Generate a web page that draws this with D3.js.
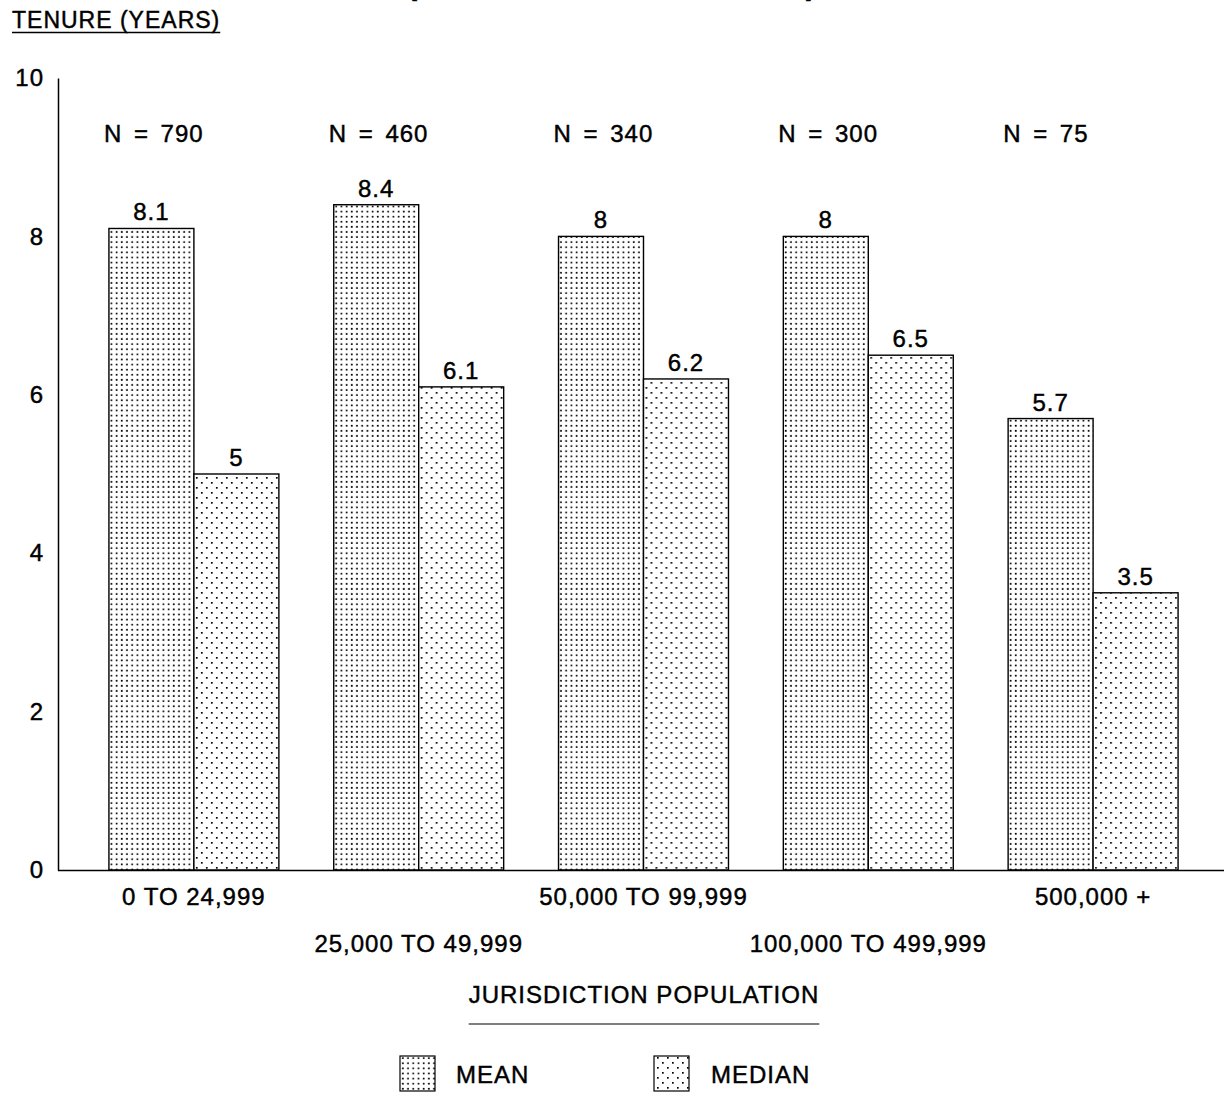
<!DOCTYPE html>
<html>
<head>
<meta charset="utf-8">
<script src="https://cdn.jsdelivr.net/npm/d3@7"></script>
<style>
  html, body { margin: 0; padding: 0; background: #fff; }
  svg { display: block; }
  text { font-family: "Liberation Sans", Arial, Helvetica, sans-serif; fill: #000; stroke: #000; stroke-width: 0.45px; letter-spacing: 1px; }
</style>
</head>
<body>
<svg id="chart" width="1224" height="1093"></svg>
<script>
// Jurisdiction population classes
const groups = ["0 TO 24,999", "25,000 TO 49,999", "50,000 TO 99,999", "100,000 TO 499,999", "500,000 +"];
// Respondents per class
const counts = [790, 460, 340, 300, 75];
// Tenure in years
const meanValues = [8.1, 8.4, 8, 8, 5.7];
const medianValues = [5, 6.1, 6.2, 6.5, 3.5];
const seriesNames = ["MEAN", "MEDIAN"];
const yTicks = [0, 2, 4, 6, 8, 10];

const svg = d3.select("#chart");
const fontSize = 24;

// Dot-screen fills: fine grid for mean, staggered sparse dots for median
const defs = svg.append("defs");
const pMean = defs.append("pattern").attr("id", "pat-mean")
  .attr("patternUnits", "userSpaceOnUse").attr("width", 5.2).attr("height", 5.1);
pMean.append("rect").attr("width", 5.2).attr("height", 5.1).attr("fill", "#fff");
pMean.append("rect").attr("x", 1.6).attr("y", 1.6).attr("width", 1.7).attr("height", 1.7).attr("fill", "#000");

const pMed = defs.append("pattern").attr("id", "pat-median")
  .attr("patternUnits", "userSpaceOnUse").attr("width", 10).attr("height", 10);
pMed.append("rect").attr("width", 10).attr("height", 10).attr("fill", "#fff");
pMed.append("rect").attr("x", 2).attr("y", 2).attr("width", 1.7).attr("height", 1.7).attr("fill", "#000");
pMed.append("rect").attr("x", 7).attr("y", 7).attr("width", 1.7).attr("height", 1.7).attr("fill", "#000");

const fills = { MEAN: "url(#pat-mean)", MEDIAN: "url(#pat-median)" };

// Scales
const y = d3.scaleLinear().domain([0, 10]).range([870, 78]);
const x0 = d3.scaleBand().domain(groups).range([81.5, 1205.5])
  .paddingInner(0.244).paddingOuter(0.122);
const x1 = d3.scaleBand().domain(seriesNames).range([0, x0.bandwidth()]);

const rows = groups.map((g, i) => ({
  group: g, n: counts[i],
  values: [ { key: "MEAN", v: meanValues[i] }, { key: "MEDIAN", v: medianValues[i] } ]
}));

// Title line, set high so only the parentheses' tails show
svg.append("text").attr("x", 407).attr("y", -5).attr("font-size", 30).attr("font-weight", "bold").text("(");
svg.append("text").attr("x", 806).attr("y", -5).attr("font-size", 30).attr("font-weight", "bold").text(")");

// Y axis title, underlined
const yTitle = svg.append("text").attr("x", 12).attr("y", 28).attr("font-size", fontSize - 1)
  .attr("letter-spacing", 1.2).text("TENURE (YEARS)");
const yTw = yTitle.node().getComputedTextLength();
svg.append("line").attr("x1", 12).attr("x2", 12 + yTw).attr("y1", 32.5).attr("y2", 32.5)
  .attr("stroke", "#000").attr("stroke-width", 1.5);

// Y axis
const yAxis = d3.axisLeft(y).tickValues(yTicks).tickSize(0).tickPadding(14).tickFormat(d3.format("d"));
const yg = svg.append("g").attr("transform", "translate(58,0)").call(yAxis);
yg.select(".domain").attr("stroke", "#000").attr("stroke-width", 1.5);
yg.selectAll(".tick text").attr("font-size", fontSize).attr("font-family", "Liberation Sans, Arial, sans-serif")
  .attr("fill", "#000").attr("letter-spacing", 1.5);

// Bars
const gGroups = svg.append("g").selectAll("g").data(rows).join("g")
  .attr("transform", d => `translate(${x0(d.group)},0)`);

gGroups.selectAll("rect").data(d => d.values).join("rect")
  .attr("x", d => x1(d.key))
  .attr("y", d => y(d.v))
  .attr("width", x1.bandwidth())
  .attr("height", d => y(0) - y(d.v))
  .attr("fill", d => fills[d.key])
  .attr("stroke", "#000").attr("stroke-width", 1.4);

// Value labels
gGroups.selectAll("text.val").data(d => d.values).join("text")
  .attr("class", "val")
  .attr("x", d => x1(d.key) + x1.bandwidth() / 2)
  .attr("y", d => y(d.v) - 8)
  .attr("text-anchor", "middle").attr("font-size", fontSize)
  .text(d => d.v);

// N labels
gGroups.append("text")
  .attr("x", -5).attr("y", 142)
  .attr("font-size", fontSize).attr("word-spacing", 4)
  .text(d => `N = ${d.n}`);

// X baseline
svg.append("line").attr("x1", 58).attr("x2", 1224).attr("y1", y(0) + 0.5).attr("y2", y(0) + 0.5)
  .attr("stroke", "#000").attr("stroke-width", 1.6);

// Category labels, alternating rows
svg.append("g").selectAll("text").data(groups).join("text")
  .attr("x", d => x0(d) + x0.bandwidth() / 2)
  .attr("y", (d, i) => i % 2 === 0 ? 905 : 952)
  .attr("text-anchor", "middle").attr("font-size", fontSize)
  .text(d => d);

// X axis title, underlined
const xTitle = svg.append("text").attr("x", 644).attr("y", 1003)
  .attr("text-anchor", "middle").attr("font-size", fontSize).text("JURISDICTION POPULATION");
const xTw = xTitle.node().getComputedTextLength();
svg.append("line").attr("x1", 644 - xTw / 2).attr("x2", 644 + xTw / 2).attr("y1", 1024).attr("y2", 1024)
  .attr("stroke", "#000").attr("stroke-width", 1.2);

// Legend
const legendPos = [ { key: "MEAN", bx: 400, tx: 456 }, { key: "MEDIAN", bx: 654, tx: 711 } ];
const lg = svg.append("g").selectAll("g").data(legendPos).join("g");
lg.append("rect").attr("x", d => d.bx).attr("y", 1056).attr("width", 35).attr("height", 35)
  .attr("fill", d => fills[d.key]).attr("stroke", "#000").attr("stroke-width", 1.2);
lg.append("text").attr("x", d => d.tx).attr("y", 1083).attr("font-size", fontSize).text(d => d.key);
</script>
</body>
</html>
